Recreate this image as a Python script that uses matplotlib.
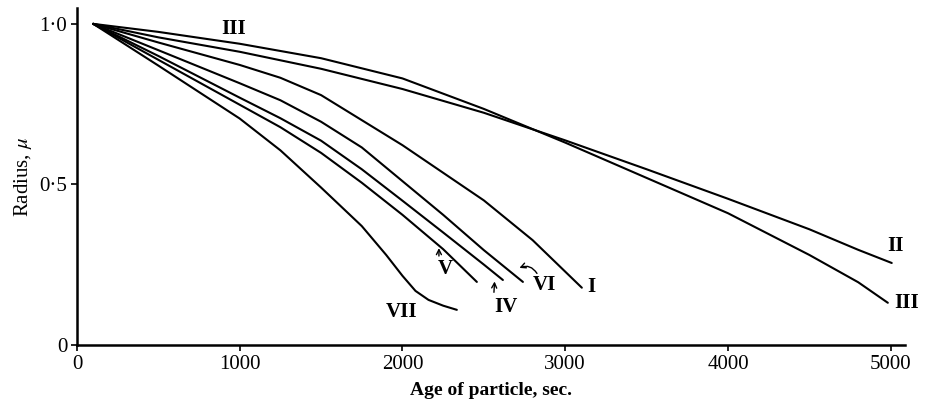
import matplotlib
matplotlib.use("Agg")
import matplotlib.pyplot as plt

plt.rcParams['font.family'] = ['Liberation Serif', 'DejaVu Serif']
plt.rcParams['mathtext.fontset'] = 'stix'

# Data (age in s, radius in microns)
age_I = [100, 500, 1000, 1250, 1500, 2000, 2500, 2800, 3102]
rad_I = [1.0, 0.942, 0.872, 0.832, 0.778, 0.622, 0.450, 0.326, 0.178]

age_II = [100, 500, 1000, 1500, 2000, 2500, 3000, 3500, 4000, 4500, 4800, 5006]
rad_II = [1.0, 0.958, 0.913, 0.860, 0.797, 0.723, 0.637, 0.547, 0.455, 0.360, 0.296, 0.255]

age_III = [100, 500, 1000, 1500, 2000, 2500, 3000, 3500, 4000, 4500, 4800, 4982]
rad_III = [1.0, 0.975, 0.938, 0.893, 0.830, 0.735, 0.630, 0.520, 0.410, 0.280, 0.195, 0.131]

age_IV = [100, 500, 1000, 1250, 1500, 1750, 2000, 2250, 2500, 2617]
rad_IV = [1.0, 0.900, 0.770, 0.706, 0.636, 0.547, 0.449, 0.350, 0.250, 0.202]

age_V = [100, 500, 1000, 1250, 1500, 1750, 2000, 2250, 2457]
rad_V = [1.0, 0.888, 0.748, 0.678, 0.598, 0.505, 0.405, 0.298, 0.196]

age_VI = [100, 500, 1000, 1250, 1500, 1750, 2000, 2250, 2500, 2740]
rad_VI = [1.0, 0.918, 0.815, 0.762, 0.695, 0.615, 0.510, 0.405, 0.295, 0.196]

age_VII = [100, 500, 1000, 1250, 1500, 1750, 1900, 2000, 2080, 2160, 2250, 2334]
rad_VII = [1.0, 0.870, 0.705, 0.606, 0.490, 0.370, 0.280, 0.215, 0.168, 0.140, 0.122, 0.109]

x_ticks = [0, 1000, 2000, 3000, 4000, 5000]
x_ticklabels = ['0', '1000', '2000', '3000', '4000', '5000']
y_ticks = [0, 0.5, 1.0]
y_ticklabels = ['0', '0\u00b75', '1\u00b70']

fig = plt.figure(figsize=(9.27, 4.11), dpi=100)
ax = fig.add_axes([0.083, 0.161, 0.893, 0.82])

series = [(age_I, rad_I), (age_II, rad_II), (age_III, rad_III), (age_IV, rad_IV),
          (age_V, rad_V), (age_VI, rad_VI), (age_VII, rad_VII)]
for a, r in series:
    ax.plot(a, r, color='black', lw=1.5, solid_capstyle='round', solid_joinstyle='round')

ax.set_xlim(0, 5086)
ax.set_ylim(0, 1.05)
for s in ['top', 'right']:
    ax.spines[s].set_visible(False)
for s in ['left', 'bottom']:
    ax.spines[s].set_linewidth(1.8)

ax.set_xticks(x_ticks)
ax.set_xticklabels(x_ticklabels)
ax.set_yticks(y_ticks)
ax.set_yticklabels(y_ticklabels)
ax.tick_params(direction='out', length=4, width=1.2, labelsize=15, pad=3)

ax.set_xlabel('Age of particle, sec.', fontsize=14, fontweight='bold', labelpad=6)
ax.set_ylabel('Radius, $\\mu$', fontsize=15, labelpad=4)

lab = dict(fontsize=15, fontweight='bold', ha='center', va='center')
ax.text(964, 0.985, 'III', **lab)
ax.text(5031, 0.308, 'II', **lab)
ax.text(5098, 0.131, 'III', **lab)
ax.text(3160, 0.181, 'I', **lab)
ax.text(2870, 0.187, 'VI', **lab)
ax.text(2635, 0.118, 'IV', **lab)
ax.text(2262, 0.235, 'V', **lab)
ax.text(1996, 0.103, 'VII', **lab)

arr = dict(arrowstyle='->', color='black', lw=1.0, mutation_scale=9)
ax.annotate('', xy=(2224, 0.31), xytext=(2224, 0.268), arrowprops=arr)
ax.annotate('', xy=(2567, 0.206), xytext=(2561, 0.155), arrowprops=arr)
ax.annotate('', xy=(2703, 0.236), xytext=(2835, 0.215),
            arrowprops=dict(arr, connectionstyle='arc3,rad=0.5'))

fig.savefig('out.png', dpi=100)
